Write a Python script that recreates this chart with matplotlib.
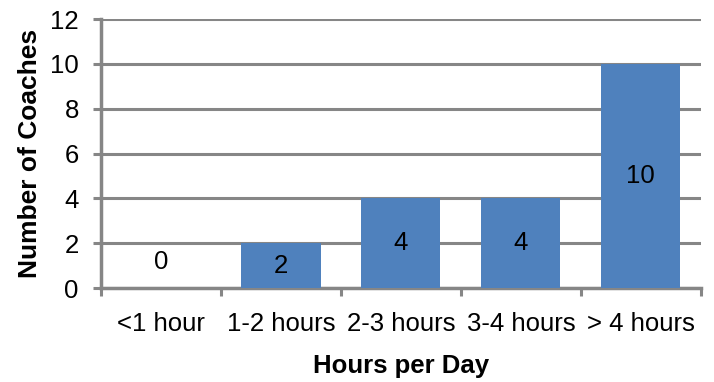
import numpy as np
import matplotlib
matplotlib.use("Agg")
import matplotlib.pyplot as plt
from matplotlib.ticker import FixedLocator

plt.rcParams["font.family"] = ["Liberation Sans", "DejaVu Sans"]

categories = ["<1 hour", "1-2 hours", "2-3 hours", "3-4 hours", "> 4 hours"]
coaches = [0, 2, 4, 4, 10]
y_ticks = [0, 2, 4, 6, 8, 10, 12]

bar_color = "#4F81BD"
grid_color = "#868686"

fig = plt.figure(figsize=(7.14, 3.82), dpi=100)
ax = fig.add_axes([0.1415, 0.246, 0.840, 0.704])

x = np.arange(len(categories))
ax.bar(x, coaches, width=0.66, color=bar_color, zorder=3)

# value labels in the middle of each bar (zero gets lifted off the axis)
for xi, v in zip(x, coaches):
    y_pos = v / 2 if v > 0 else 1.15
    ax.text(xi, y_pos, str(v), ha="center", va="center", fontsize=18.5, color="black", zorder=4)

ax.set_xlim(-0.5, len(categories) - 0.5)
ax.set_ylim(0, 12)
ax.set_yticks(y_ticks)
ax.set_yticklabels([str(t) for t in y_ticks], fontsize=18.5)
ax.yaxis.grid(True, color=grid_color, linewidth=2.2, zorder=0)
ax.set_axisbelow(True)

ax.set_xticks(x)
ax.set_xticklabels(categories, fontsize=18.5)
ax.tick_params(axis="x", which="major", length=0, pad=17)
ax.xaxis.set_minor_locator(FixedLocator(np.arange(-0.5, len(categories), 1.0)))
ax.tick_params(axis="x", which="minor", length=6, width=2.2, color=grid_color)
ax.tick_params(axis="y", length=6, width=2.2, color=grid_color, pad=10)

for side in ["top", "right"]:
    ax.spines[side].set_visible(False)
for side in ["left", "bottom"]:
    ax.spines[side].set_color(grid_color)
    ax.spines[side].set_linewidth(2.5)

ax.set_xlabel("Hours per Day", fontsize=18.5, fontweight="bold", labelpad=13)
ax.set_ylabel("Number of Coaches", fontsize=19, fontweight="bold", labelpad=6)

fig.savefig("out.png", dpi=100)
